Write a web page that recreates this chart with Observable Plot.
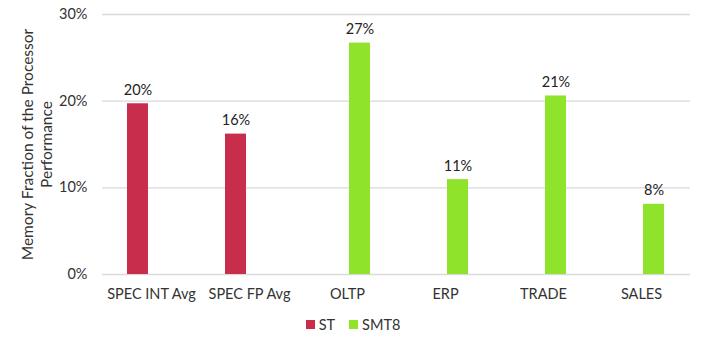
<!DOCTYPE html>
<html>
<head>
<meta charset="utf-8">
<script src="https://cdn.jsdelivr.net/npm/d3@7"></script>
<script src="https://cdn.jsdelivr.net/npm/@observablehq/plot@0.6"></script>
<style>
  body { margin: 0; background: #fff; font-family: Lato, "Open Sans", sans-serif; }
  #legend { display: flex; justify-content: center; gap: 14px; font-size: 14.5px; color: #333; margin-top: 12px; padding-left: 4px; }
  .item { display: flex; align-items: center; gap: 4px; }
  .sw { width: 9px; height: 9px; display: inline-block; }
</style>
</head>
<body>
<div id="chart"></div>
<div id="legend"></div>
<script>
const categories = ["SPEC INT Avg", "SPEC FP Avg", "OLTP", "ERP", "TRADE", "SALES"];
const seriesOf = ["ST", "ST", "SMT8", "SMT8", "SMT8", "SMT8"];
const values = [19.7, 16.2, 26.7, 10.95, 20.6, 8.1];
const seriesNames = ["ST", "SMT8"];
const seriesColors = ["#C82D4B", "#8FE32A"];
const yTicks = [0, 10, 20, 30];
const yTitle = "Memory Fraction of the Processor\nPerformance";

const data = categories.map((c, i) => ({category: c, series: seriesOf[i], value: values[i]}));

const plot = Plot.plot({
  width: 702,
  height: 304,
  marginTop: 14,
  marginBottom: 30,
  marginLeft: 100,
  marginRight: 10,
  style: {fontFamily: "Lato, 'Open Sans', sans-serif", fontSize: "14.5px", color: "#333"},
  fx: {domain: categories, padding: 0, label: null},
  x: {domain: seriesNames, paddingInner: 0.185, paddingOuter: 0.92, axis: null},
  y: {domain: [0, 30], label: null},
  color: {domain: seriesNames, range: seriesColors},
  marks: [
    Plot.gridY(yTicks, {stroke: "#d9d9d9", strokeOpacity: 1, strokeWidth: 1.3}),
    Plot.axisY(yTicks, {tickFormat: d => d + "%", tickSize: 0, tickPadding: 15, fontSize: 14.5, fill: "#333", label: null}),
    Plot.axisFx({tickSize: 0, tickPadding: 14, fontSize: 14.5, fill: "#333", label: null, anchor: "bottom"}),
    Plot.text([yTitle], {frameAnchor: "left", rotate: -90, dx: -66, textAnchor: "middle", fontSize: 15.5, lineHeight: 1.25,
      fill: "#333", facet: "super"}),
    Plot.barY(data, {fx: "category", x: "series", y: "value", fill: "series"}),
    Plot.text(data, {fx: "category", x: "series", y: "value", text: d => Math.round(d.value) + "%",
      lineAnchor: "bottom", dy: -9, fill: "#222", fontSize: 14.5})
  ]
});
document.getElementById("chart").appendChild(plot);

const legend = document.getElementById("legend");
seriesNames.forEach((s, i) => {
  const it = document.createElement("span");
  it.className = "item";
  const sw = document.createElement("span");
  sw.className = "sw";
  sw.style.background = seriesColors[i];
  it.appendChild(sw);
  it.appendChild(document.createTextNode(s));
  legend.appendChild(it);
});
</script>
</body>
</html>
